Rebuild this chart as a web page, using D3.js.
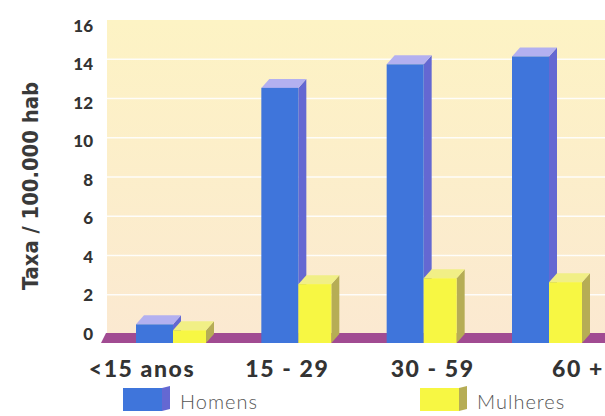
<!DOCTYPE html>
<html>
<head>
<meta charset="utf-8">
<script src="https://cdn.jsdelivr.net/npm/d3@7"></script>
<style>
  html, body { margin: 0; padding: 0; background: #ffffff; }
  svg { display: block; }
</style>
</head>
<body>
<svg id="chart" width="605" height="416"></svg>
<script>
// Age groups and rates per 100,000 inhabitants
const categories = ["<15 anos", "15 - 29", "30 - 59", "60 +"];
const homens = [0.95, 13.0, 14.2, 14.6];
const mulheres = [0.65, 3.0, 3.3, 3.1];
const seriesNames = ["Homens", "Mulheres"];
const yTicks = [0, 2, 4, 6, 8, 10, 12, 14, 16];

const svg = d3.select("#chart");
const W = 605;

// 3D offsets of the box: back plane sits up/right of the front plane
const depthX = 8, depthY = 9;
const backBase = 334, frontBase = 343;

// value scales for the back wall and for the front faces
const yBack = d3.scaleLinear().domain([0, 16]).range([backBase, 20]);
const yFront = d3.scaleLinear().domain([0, 16]).range([frontBase, frontBase - (backBase - 20)]);
// axis text scale (labels sit slightly compressed against the wall)
const yLabel = d3.scaleLinear().domain([0, 16]).range([334, 26]);

// group position (left edge of the blue bar) and label position
const xGroup = d3.scalePoint().domain(categories).range([136, 512]);
const xText = d3.scalePoint().domain(categories).range([142, 578]);
const barW = { Homens: 37, Mulheres: 33 };

const colors = {
  Homens: { front: "#3f75db", side: "#6468d2", top: "#b3b0f0" },
  Mulheres: { front: "#f7f743", side: "#b6ad55", top: "#f1ef86" }
};

const defs = svg.append("defs");
const wallGrad = defs.append("linearGradient")
  .attr("id", "wall").attr("x1", 0).attr("y1", 0).attr("x2", 0).attr("y2", 1);
wallGrad.append("stop").attr("offset", "0%").attr("stop-color", "#fdf3c4");
wallGrad.append("stop").attr("offset", "100%").attr("stop-color", "#fbe9d1");

// back wall
svg.append("rect")
  .attr("x", 107).attr("y", yBack(16))
  .attr("width", W - 107).attr("height", backBase - yBack(16))
  .attr("fill", "url(#wall)");

// horizontal gridlines on the wall
svg.append("g").selectAll("line")
  .data(yTicks.filter(d => d > 0 && d < 16))
  .join("line")
  .attr("x1", 107).attr("x2", W)
  .attr("y1", d => yBack(d)).attr("y2", d => yBack(d))
  .attr("stroke", "#ffffff").attr("stroke-width", 1.6).attr("opacity", 0.9);

// floor slab
svg.append("path")
  .attr("d", `M106,${backBase - 1} L${W},${backBase - 1} L${W},${frontBase} L101,${frontBase} Z`)
  .attr("fill", "#a14b92");

// y axis labels
const yAxis = d3.axisLeft(yLabel).tickValues(yTicks).tickSize(0).tickPadding(0);
const gy = svg.append("g").attr("transform", "translate(93,0)").call(yAxis);
gy.select(".domain").remove();
gy.selectAll("text")
  .attr("font-family", "Lato, 'Open Sans', sans-serif")
  .attr("font-weight", 900).attr("font-size", 17).attr("fill", "#333333");

// y axis title, condensed to fit its column
svg.append("text")
  .attr("transform", "translate(38,186) rotate(-90)")
  .attr("text-anchor", "middle")
  .attr("font-family", "'DejaVu Sans Condensed', 'DejaVu Sans', sans-serif")
  .attr("font-weight", 700).attr("font-size", 22).attr("fill", "#3a3a3a")
  .attr("textLength", 208).attr("lengthAdjust", "spacingAndGlyphs")
  .text("Taxa / 100.000 hab");

// bars as extruded boxes
const rows = [];
categories.forEach((c, i) => {
  rows.push({ cat: c, name: "Homens", value: homens[i], x: xGroup(c) });
  rows.push({ cat: c, name: "Mulheres", value: mulheres[i], x: xGroup(c) + barW.Homens });
});

const bars = svg.append("g").selectAll("g").data(rows).join("g");
bars.append("path") // side face
  .attr("d", d => {
    const x1 = d.x + barW[d.name], yt = yFront(d.value);
    return `M${x1},${frontBase} L${x1 + depthX},${frontBase - depthY} L${x1 + depthX},${yt - depthY} L${x1},${yt} Z`;
  })
  .attr("fill", d => colors[d.name].side);
bars.append("path") // top face
  .attr("d", d => {
    const x0 = d.x, x1 = d.x + barW[d.name], yt = yFront(d.value);
    return `M${x0},${yt} L${x0 + depthX},${yt - depthY} L${x1 + depthX},${yt - depthY} L${x1},${yt} Z`;
  })
  .attr("fill", d => colors[d.name].top);
bars.append("rect") // front face
  .attr("x", d => d.x).attr("y", d => yFront(d.value))
  .attr("width", d => barW[d.name]).attr("height", d => frontBase - yFront(d.value))
  .attr("fill", d => colors[d.name].front);

// category labels
svg.append("g").selectAll("text").data(categories).join("text")
  .attr("x", d => xText(d)).attr("y", 377)
  .attr("text-anchor", "middle")
  .attr("font-family", "Lato, 'Open Sans', sans-serif")
  .attr("font-weight", 900).attr("font-size", 23).attr("letter-spacing", 1.6)
  .attr("fill", "#333333")
  .text(d => d);

// legend
const legendX = { Homens: 123, Mulheres: 420 };
const lg = svg.append("g").selectAll("g").data(seriesNames).join("g")
  .attr("transform", d => `translate(${legendX[d]},388)`);
lg.append("rect").attr("x", 0).attr("y", 0).attr("width", 39).attr("height", 23)
  .attr("fill", d => colors[d].front);
lg.append("path").attr("d", "M39,0 L47,-2 L47,21 L39,23 Z")
  .attr("fill", d => colors[d].side);
lg.append("text").attr("x", 57).attr("y", 21)
  .attr("font-family", "Lato, 'Open Sans', sans-serif")
  .attr("font-weight", 300).attr("font-size", 20).attr("letter-spacing", 1)
  .attr("fill", "#555555")
  .text(d => d);
</script>
</body>
</html>
